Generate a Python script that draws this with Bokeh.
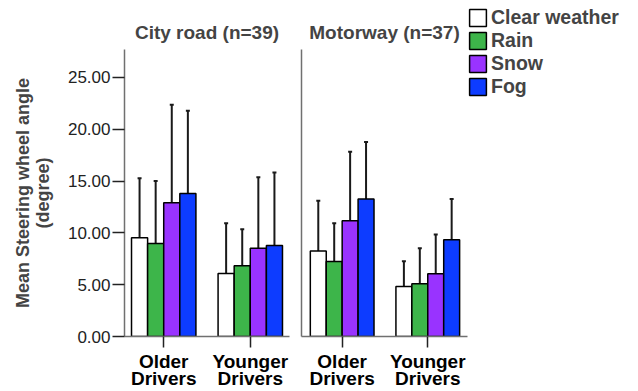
from bokeh.plotting import figure
from bokeh.models import (ColumnDataSource, Range1d, Whisker, TeeHead, Legend,
                          LegendItem, FixedTicker, NumeralTickFormatter)
from bokeh.transform import dodge
from bokeh.layouts import row
from bokeh.embed import file_html
from bokeh.resources import INLINE

drivers = ["Older\nDrivers", "Younger\nDrivers"]
weather = ["Clear weather", "Rain", "Snow", "Fog"]
colors = ["#ffffff", "#3db54a", "#9933ff", "#0d3cff"]

panels = ["City road (n=39)", "Motorway (n=37)"]

# values per weather -> [older, younger]
city_mean = [[9.52, 6.08], [8.97, 6.82], [12.92, 8.51], [13.79, 8.78]]
city_lo = [[3.69, 1.22], [2.92, 3.25], [3.60, 1.80], [5.81, 1.80]]
city_hi = [[15.27, 10.93], [15.01, 10.35], [22.37, 15.36], [21.79, 15.84]]

motor_mean = [[8.26, 4.82], [7.23, 5.08], [11.16, 6.05], [13.28, 9.33]]
motor_lo = [[3.38, 2.44], [3.54, 1.71], [4.50, 2.34], [7.81, 5.47]]
motor_hi = [[13.11, 7.26], [10.93, 8.51], [17.84, 9.84], [18.78, 13.28]]

y_ticks = [0, 5, 10, 15, 20, 25]
y_max = 27.7

FONT = "Liberation Sans"
offsets = [-0.279, -0.093, 0.093, 0.279]
bar_w = 0.186

# category positions (index based)
pos = [i + 0.5 for i in range(len(drivers))]


def make_panel(title, means, los, his, first, fw, bl, br, xr):
    data = {"pos": pos, "drivers": drivers}
    for i in range(len(weather)):
        data[f"m{i}"] = means[i]
        data[f"lo{i}"] = los[i]
        data[f"hi{i}"] = his[i]
    src = ColumnDataSource(data)
    p = figure(x_range=Range1d(*xr), y_range=(0, y_max), frame_width=fw, frame_height=287,
               output_backend="svg", toolbar_location=None,
               min_border_left=bl, min_border_right=br, min_border_top=49, min_border_bottom=54)
    p.title.text = title
    p.title.align = "center"
    p.title.text_font = FONT
    p.title.text_font_size = "19px"
    p.title.text_font_style = "bold"
    p.title.standoff = 14
    p.outline_line_color = None
    p.grid.visible = False
    p.background_fill_color = "white"

    rends = []
    for i in range(len(weather)):
        r = p.vbar(x=dodge("pos", offsets[i]), top=f"m{i}", width=bar_w,
                   source=src, fill_color=colors[i], line_color="black", line_width=1.5)
        rends.append(r)
        wk = Whisker(source=src, base=dodge("pos", offsets[i]),
                     upper=f"hi{i}", lower=f"lo{i}", line_color="#1a1a1a", line_width=2,
                     upper_head=TeeHead(size=4, line_color="#1a1a1a", line_width=2),
                     lower_head=TeeHead(size=4, line_color="#1a1a1a", line_width=2))
        p.add_layout(wk)

    xa = p.xaxis[0]
    xa.ticker = FixedTicker(ticks=pos)
    xa.major_label_overrides = {x: d for x, d in zip(pos, drivers)}
    xa.minor_tick_line_color = None
    xa.axis_line_color = "#707070"
    xa.axis_line_width = 1.5
    xa.major_tick_line_color = "#222222"
    xa.major_tick_line_width = 1.5
    xa.major_tick_out = 11
    xa.major_tick_in = 0
    xa.major_label_standoff = 3
    xa.major_label_text_font = FONT
    xa.major_label_text_font_size = "19px"
    xa.major_label_text_font_style = "bold"
    xa.major_label_text_color = "black"
    xa.major_label_text_line_height = 0.85

    ya = p.yaxis[0]
    ya.axis_line_color = "#707070"
    ya.axis_line_width = 1.5
    ya.minor_tick_line_color = None
    if first:
        ya.ticker = FixedTicker(ticks=y_ticks)
        ya.formatter = NumeralTickFormatter(format="0.00")
        ya.major_tick_out = 12
        ya.major_tick_in = 0
        ya.major_tick_line_color = "#222222"
        ya.major_tick_line_width = 1.5
        ya.major_label_standoff = 2
        ya.major_label_text_font = FONT
        ya.major_label_text_font_size = "17px"
        ya.major_label_text_color = "#222222"
        ya.axis_label = "Mean Steering wheel angle\n(degree)"
        ya.axis_label_text_font = FONT
        ya.axis_label_text_font_size = "18px"
        ya.axis_label_text_font_style = "bold"
        ya.axis_label_text_line_height = 1.0
        ya.axis_label_standoff = 12
    else:
        ya.ticker = FixedTicker(ticks=[])
        ya.major_label_standoff = 0
        ya.major_tick_out = 0
        ya.major_tick_in = 0
    return p, rends


p1, _ = make_panel(panels[0], city_mean, city_lo, city_hi, True, 165, 124, 6, (0.047, 1.953))
p2, rends = make_panel(panels[1], motor_mean, motor_lo, motor_hi, False, 166, 6, 164, (0.025, 1.964))

legend = Legend(items=[LegendItem(label=w, renderers=[r]) for w, r in zip(weather, rends)],
                location=(0, 238), padding=0, margin=0, spacing=0,
                glyph_height=21, glyph_width=21, label_height=21, label_standoff=3,
                label_text_font=FONT, label_text_font_size="19.5px", label_text_font_style="bold",
                border_line_color=None, background_fill_alpha=0)
p2.add_layout(legend, "right")

layout = row(p1, p2)
open("out.html", "w").write(file_html(layout, INLINE))
